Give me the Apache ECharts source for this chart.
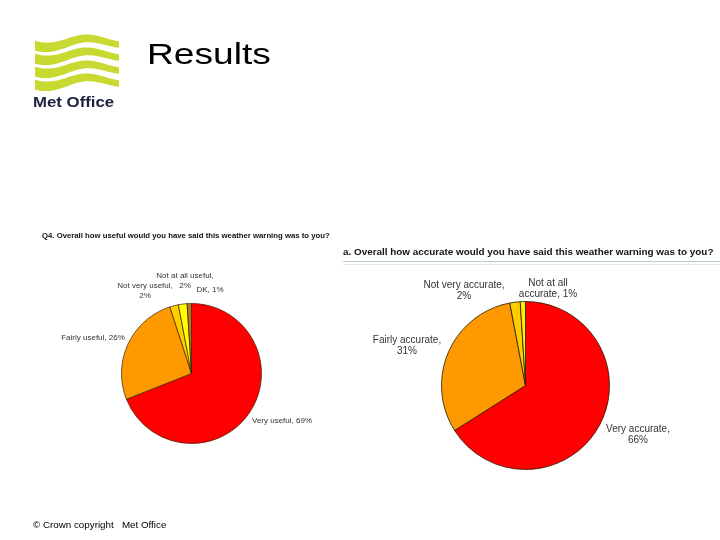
<!DOCTYPE html>
<html>
<head>
<meta charset="utf-8">
<script src="https://cdn.jsdelivr.net/npm/echarts@6/dist/echarts.min.js"></script>
<style>html,body{margin:0;padding:0;background:#fff;}#c{width:720px;height:540px;}</style>
</head>
<body>
<div id="c"></div>
<script>
// ---- data ----
const usefulCategories = ['Very useful', 'Fairly useful', 'Not very useful', 'Not at all useful', 'DK'];
const usefulValues = [69, 26, 2, 2, 1];
const usefulSeparators = [', ', ', ', ',\n', ',\n', ', '];

const accurateCategories = ['Very accurate', 'Fairly accurate', 'Not very accurate', 'Not at all\naccurate'];
const accurateValues = [66, 31, 2, 1];
const accurateSeparators = [',\n', ',\n', ',\n', ', '];

const usefulColors = ['#ff0000', '#ff9900', '#ffcc00', '#ffff00', '#c07020'];
const accurateColors = ['#ff0000', '#ff9900', '#ffcc00', '#ffee00'];

// label anchor positions (centre of label block), layout only
const usefulLabelPos = [[282, 421], [93, 338], [145, 291], [185, 281], [210, 290]];
const accurateLabelPos = [[638, 435], [407, 346], [464, 291], [548, 289]];

const FONT = '"Liberation Sans", Arial, sans-serif';

function buildData(cats, vals, colors) {
  return cats.map((c, i) => ({ name: c, value: vals[i], itemStyle: { color: colors[i] } }));
}

// logo waves (decoration)
function wave(y0, phase) {
  const top = [], bot = [];
  const N = 40;
  for (let i = 0; i <= N; i++) {
    const t = i / N;
    const x = 35 + 84 * t;
    const cy = y0 + 3.8 * Math.sin(2 * Math.PI * (t * 1.1) + phase) - 3 * t;
    const th = 10 - 3.5 * t;
    top.push([x, cy - th / 2]);
    bot.push([x, cy + th / 2]);
  }
  return top.concat(bot.reverse());
}
const waveGraphics = [44, 57, 70, 83].map(y0 => ({
  type: 'polygon', shape: { points: wave(y0, 0.5) }, style: { fill: '#c8da32' }
}));

const chart = echarts.init(document.getElementById('c'), null, { renderer: 'canvas' });
chart.setOption({
  backgroundColor: '#ffffff',
  animation: false,
  title: [
    { text: 'Q4. Overall how useful would you have said this weather warning was to you?', left: 42, top: 232, padding: 0,
      textStyle: { fontFamily: FONT, fontSize: 7.75, fontWeight: 'bold', color: '#111' } },
    { text: 'a. Overall how accurate would you have said this weather warning was to you?', left: 343, top: 247, padding: 0,
      textStyle: { fontFamily: FONT, fontSize: 9.9, fontWeight: 'bold', color: '#111' } }
  ],
  graphic: [
    ...waveGraphics,
    { type: 'text', x: 33, y: 95, scaleX: 1.12,
      style: { text: 'Met Office', font: 'bold 15px ' + FONT, fill: '#1b2240' } },
    { type: 'text', x: 147, y: 41, scaleX: 1.28,
      style: { text: 'Results', font: '29px ' + FONT, fill: '#000' } },
    { type: 'text', x: 33, y: 520,
      style: { text: '\u00a9 Crown copyright   Met Office', font: '9.8px ' + FONT, fill: '#000' } },
    { type: 'line', shape: { x1: 343, y1: 261.5, x2: 720, y2: 261.5 }, style: { stroke: '#b9cdd6', lineWidth: 1 } },
    { type: 'line', shape: { x1: 343, y1: 264.5, x2: 720, y2: 264.5 }, style: { stroke: '#e2eaee', lineWidth: 1 } }
  ],
  series: [
    {
      type: 'pie', center: [191.5, 373.5], radius: 70, startAngle: 90, clockwise: true,
      data: buildData(usefulCategories, usefulValues, usefulColors),
      itemStyle: { borderColor: '#3a2000', borderWidth: 0.7 },
      labelLine: { show: false },
      label: {
        show: true, position: 'outside', fontFamily: FONT, fontSize: 8, color: '#333', lineHeight: 10,
        width: 200, overflow: 'none',
        formatter: p => p.name + usefulSeparators[p.dataIndex] + p.value + '%'
      },
      labelLayout: p => ({ x: usefulLabelPos[p.dataIndex][0], y: usefulLabelPos[p.dataIndex][1], align: 'center', verticalAlign: 'middle' }),
      emphasis: { disabled: true }
    },
    {
      type: 'pie', center: [525.5, 385.5], radius: 84, startAngle: 90, clockwise: true,
      data: buildData(accurateCategories, accurateValues, accurateColors),
      itemStyle: { borderColor: '#2a1800', borderWidth: 0.8 },
      labelLine: { show: false },
      label: {
        show: true, position: 'outside', fontFamily: FONT, fontSize: 10, color: '#333', lineHeight: 11,
        width: 200, overflow: 'none',
        formatter: p => p.name + accurateSeparators[p.dataIndex] + p.value + '%'
      },
      labelLayout: p => ({ x: accurateLabelPos[p.dataIndex][0], y: accurateLabelPos[p.dataIndex][1], align: 'center', verticalAlign: 'middle' }),
      emphasis: { disabled: true }
    }
  ]
});
</script>
</body>
</html>
